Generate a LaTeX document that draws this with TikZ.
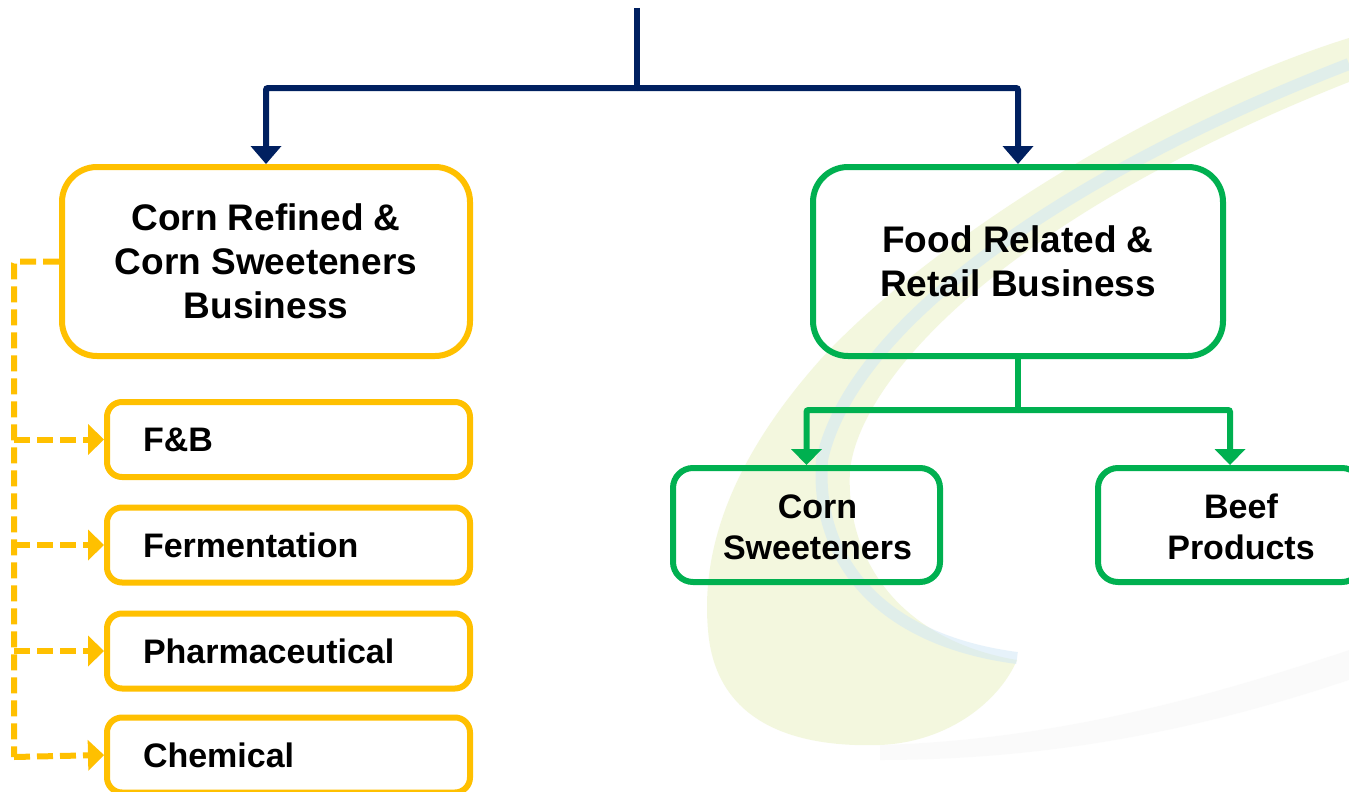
\documentclass[tikz,border=0pt]{standalone}
\usepackage{fontspec}
\setmainfont{Liberation Sans}
\usetikzlibrary{arrows.meta}
\definecolor{navy}{HTML}{002060}
\definecolor{gold}{HTML}{FFC000}
\definecolor{grn}{HTML}{00B050}
\definecolor{swy}{HTML}{E6EEB8}
\definecolor{swb}{HTML}{CFE6F6}
\begin{document}
\begin{tikzpicture}[x=1pt,y=-1pt,
  bigbox/.style={draw, line width=6pt, rounded corners=35pt, minimum height=189pt,
    align=center, font=\fontsize{37}{44}\selectfont\bfseries},
  ysmall/.style={draw=gold, line width=6pt, rounded corners=15pt, minimum height=75pt,
    text width=291pt, inner xsep=36pt, align=left, font=\fontsize{34}{40}\selectfont\bfseries},
  gsmall/.style={draw=grn, line width=6pt, rounded corners=20pt, minimum height=114pt,
    align=center, font=\fontsize{34}{41}\selectfont\bfseries},
  navline/.style={draw=navy, line width=6pt, rounded corners=2pt},
  grline/.style={draw=grn, line width=6pt, rounded corners=2pt},
  ydash/.style={draw=gold, line width=6pt, dash pattern=on 16pt off 7pt, rounded corners=2pt},
  tipN/.style={-{Triangle[width=31pt,length=18pt,line width=0pt]}},
  tipS/.style={-{Triangle[width=31pt,length=16pt,line width=0pt]}}
]
\useasboundingbox (0,0) rectangle (1349,792);
\clip (0,0) rectangle (1349,792);
\fill[white] (0,0) rectangle (1349,792);

% background swoosh
\fill[swy, opacity=0.45] (1349,38) .. controls (1150,100) and (920,250) .. (820,360)
  .. controls (740,450) and (700,540) .. (708,630)
  .. controls (715,720) and (790,748) .. (880,745)
  .. controls (950,742) and (1000,700) .. (1017,660)
  .. controls (900,640) and (845,560) .. (850,470)
  .. controls (860,380) and (1000,220) .. (1349,82) -- cycle;
\draw[swb, line width=12pt, opacity=0.5] (1349,64) .. controls (1050,180) and (850,330) .. (822,460)
  .. controls (815,560) and (880,640) .. (1017,658);
\fill[gray!6, opacity=0.5] (880,745) .. controls (1050,740) and (1200,700) .. (1349,650)
  -- (1349,680) .. controls (1200,730) and (1050,760) .. (880,760) -- cycle;

% nodes
\node[bigbox, draw=gold, minimum width=408pt] (crb) at (266,261.5) {Corn Refined \&\\Corn Sweeteners\\Business};
\node[bigbox, draw=grn, minimum width=410pt] (frb) at (1018,261.5) {Food Related \&\\Retail Business};
\node[ysmall] (fb) at (288.5,439.5) {F\&B};
\node[ysmall] (fe) at (288.5,545) {Fermentation};
\node[ysmall] (ph) at (288.5,651) {Pharmaceutical};
\node[ysmall] (ch) at (288.5,755) {Chemical};
\node[gsmall, minimum width=267pt] (cs) at (806.5,525)
  {\hspace*{22pt}\raisebox{-6pt}[\height][\depth]{\begin{tabular}{@{}c@{}}Corn\\Sweeteners\end{tabular}}};
\node[gsmall, minimum width=264pt] (bp) at (1230,525)
  {\hspace*{22pt}\raisebox{-6pt}[\height][\depth]{\begin{tabular}{@{}c@{}}Beef\\Products\end{tabular}}};

% navy connectors
\coordinate (top) at (637,8);
\coordinate (j) at (637,88);
\draw[navline] (top) -- (j);
\draw[navline, tipN] (j) -| (crb.north);
\draw[navline, tipN] (j) -| (frb.north);

% green connectors
\coordinate (g) at (1018,410);
\draw[grline] (frb.south) -- (g);
\draw[grline, tipS] (g) -| (cs.north);
\draw[grline, tipS] (g) -| (bp.north);

% yellow dashed connectors
\coordinate (dc) at (14,757);
\draw[ydash] (crb.west) -| (dc);
\draw[ydash, tipS] (fb.west -| dc) -- (fb.west);
\draw[ydash, tipS] (fe.west -| dc) -- (fe.west);
\draw[ydash, tipS] (ph.west -| dc) -- (ph.west);
\draw[ydash, tipS] (dc) -- (ch.west);
\end{tikzpicture}
\end{document}
